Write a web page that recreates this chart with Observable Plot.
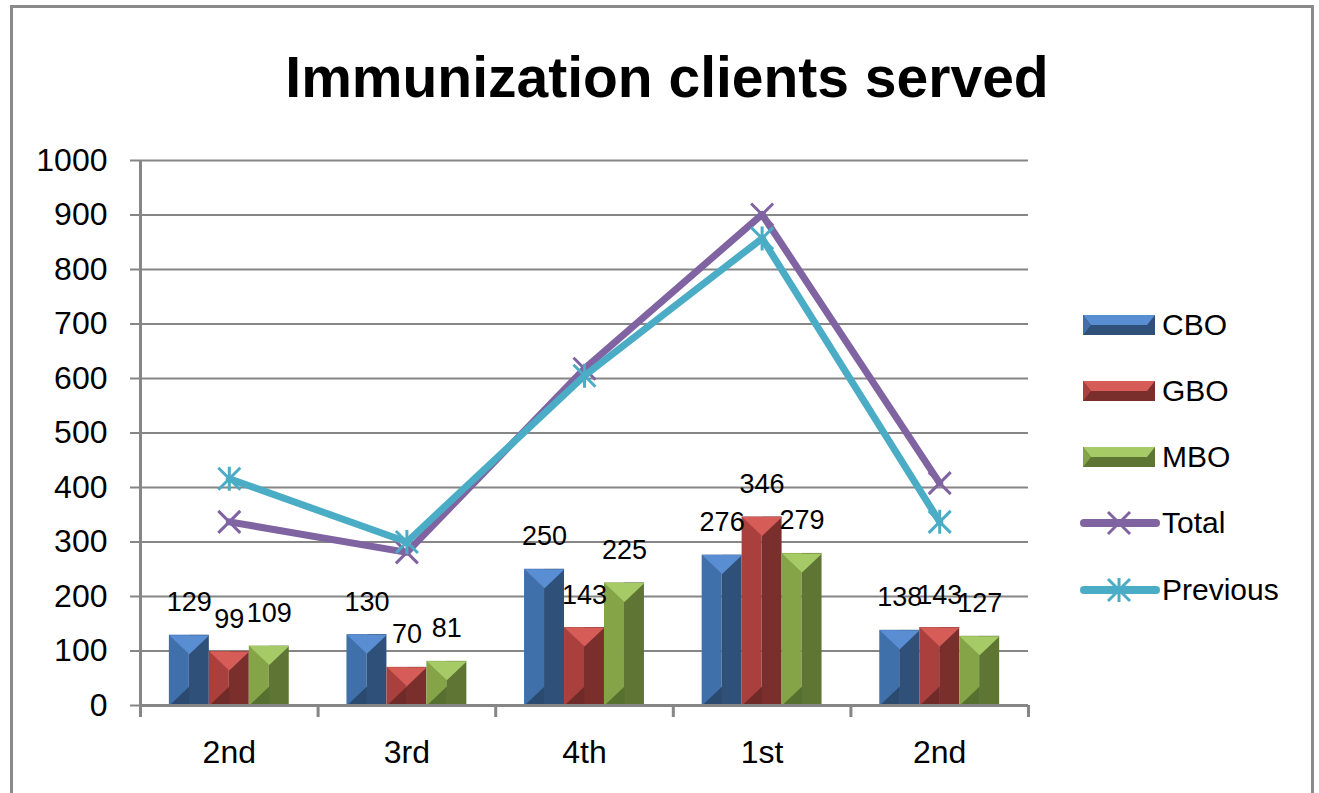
<!DOCTYPE html>
<html>
<head>
<meta charset="utf-8">
<script src="https://cdn.jsdelivr.net/npm/d3@7"></script>
<script src="https://cdn.jsdelivr.net/npm/@observablehq/plot@0.6"></script>
<style>
  html, body { margin: 0; padding: 0; background: #fff; }
  #wrap { position: relative; width: 1319px; height: 793px; overflow: hidden; font-family: "Liberation Sans", Arial, sans-serif; color: #000; }
  #frame { position: absolute; left: 10px; top: 5px; width: 1304px; height: 820px; border: 3px solid #8a8a8a; box-sizing: border-box; }
  #title { position: absolute; left: 0; top: 49px; width: 1334px; text-align: center; font-size: 57px; line-height: 57px; font-weight: bold; }
  #chart { position: absolute; left: 0; top: 130px; }
  .leg { position: absolute; left: 1080px; height: 30px; }
  .leg .lab { position: absolute; left: 82px; top: 0; font-size: 30px; line-height: 30px; white-space: nowrap; }
</style>
</head>
<body>
<div id="wrap">
  <div id="frame"></div>
  <div id="title">Immunization clients served</div>
  <div id="chart"></div>
  <div id="legend"></div>
</div>
<script>
// ---- data ----
const quarters = ["2nd", "3rd", "4th", "1st", "2nd"];
const barSeries = ["CBO", "GBO", "MBO"];
const cbo = [129, 130, 250, 276, 138];
const gbo = [99, 70, 143, 346, 143];
const mbo = [109, 81, 225, 279, 127];
const total = [337, 281, 618, 901, 408];
const previous = [416, 300, 605, 857, 337];
const yTicks = [0, 100, 200, 300, 400, 500, 600, 700, 800, 900, 1000];

// ---- styles ----
const barColors = {
  CBO: {light: "#5a8ed2", mid: "#3f70aa", dark: "#2f5179", bottom: "#2b4a70"},
  GBO: {light: "#d65c57", mid: "#aa403d", dark: "#7a2f2d", bottom: "#702a28"},
  MBO: {light: "#a6ca66", mid: "#84a447", dark: "#5e7533", bottom: "#56702f"}
};
const totalColor = "#8064a2";
const prevColor = "#4bacc6";
const gridColor = "#868686";

const barW = 0.225; // in category units
const barValues = {CBO: cbo, GBO: gbo, MBO: mbo};
const bars = [];
barSeries.forEach((s, k) => {
  barValues[s].forEach((v, i) => {
    const x1 = i + 0.5 + (k - 1.5) * barW;
    bars.push({series: s, i, value: v, x1, xm: x1 + barW / 2, x2: x1 + barW});
  });
});
const totalRows = total.map((v, i) => ({i, value: v}));
const prevRows = previous.map((v, i) => ({i, value: v}));

// custom pixel symbols
const topTri = {draw(c) { c.moveTo(-20, 0); c.lineTo(20, 0); c.lineTo(0, 19); c.closePath(); }};
const botTri = {draw(c) { c.moveTo(-20, 0); c.lineTo(0, -19); c.lineTo(0, 0); c.closePath(); }};
const timesSym = {draw(c) { c.moveTo(-11, -11); c.lineTo(11, 11); c.moveTo(-11, 11); c.lineTo(11, -11); }};
const asterSym = {draw(c) { c.moveTo(-11, -11); c.lineTo(11, 11); c.moveTo(-11, 11); c.lineTo(11, -11); c.moveTo(0, -12); c.lineTo(0, 12); }};

const barMarks = [];
barSeries.forEach(s => {
  const data = bars.filter(d => d.series === s);
  const col = barColors[s];
  barMarks.push(
    Plot.rect(data, {x1: "x1", x2: "xm", y1: 0, y2: "value", fill: col.mid}),
    Plot.rect(data, {x1: "xm", x2: "x2", y1: 0, y2: "value", fill: col.dark}),
    Plot.dot(data, {x: "xm", y: 0, symbol: botTri, fill: col.bottom, stroke: "none"}),
    Plot.dot(data, {x: "xm", y: "value", symbol: topTri, fill: col.light, stroke: "none"})
  );
});

const chart = Plot.plot({
  width: 1319,
  height: 663,
  marginTop: 30,
  marginBottom: 88,
  marginLeft: 140,
  marginRight: 291,
  style: {fontFamily: "'Liberation Sans', Arial, sans-serif", color: "#000", background: "transparent"},
  x: {domain: [0, 5], axis: null},
  y: {domain: [0, 1000], axis: null},
  marks: [
    Plot.gridY(yTicks, {stroke: gridColor, strokeOpacity: 1, strokeWidth: 2}),
    Plot.axisY(yTicks, {tickSize: 10, tickPadding: 23, fontSize: 32, stroke: gridColor, strokeWidth: 2, strokeOpacity: 1, fill: "#000", label: null, tickFormat: d => String(d)}),
    Plot.axisX([0, 1, 2, 3, 4, 5], {tickSize: 12, tickFormat: () => "", label: null, stroke: gridColor, strokeWidth: 3, strokeOpacity: 1}),
    Plot.axisX([0.5, 1.5, 2.5, 3.5, 4.5], {tickSize: 0, tickPadding: 35, fontSize: 32, fill: "#000", label: null, tickFormat: d => quarters[Math.floor(d)]}),
    Plot.ruleX([0], {stroke: gridColor, strokeWidth: 3}),
    ...barMarks,
    Plot.ruleY([0], {stroke: gridColor, strokeWidth: 3}),
    Plot.text(bars, {x: "xm", y: "value", text: d => String(d.value), dy: -24, lineAnchor: "bottom", fontSize: 27, fill: "#000"}),
    Plot.line(totalRows, {x: d => d.i + 0.5, y: "value", stroke: totalColor, strokeWidth: 7, strokeLinejoin: "round"}),
    Plot.dot(totalRows, {x: d => d.i + 0.5, y: "value", symbol: timesSym, stroke: totalColor, strokeWidth: 3, fill: "none"}),
    Plot.line(prevRows, {x: d => d.i + 0.5, y: "value", stroke: prevColor, strokeWidth: 7, strokeLinejoin: "round"}),
    Plot.dot(prevRows, {x: d => d.i + 0.5, y: "value", symbol: asterSym, stroke: prevColor, strokeWidth: 3, fill: "none"})
  ]
});
document.getElementById("chart").appendChild(chart);

// ---- legend ----
const legendItems = [
  {name: "CBO", type: "bar", col: barColors.CBO, cy: 325},
  {name: "GBO", type: "bar", col: barColors.GBO, cy: 391},
  {name: "MBO", type: "bar", col: barColors.MBO, cy: 457},
  {name: "Total", type: "line", color: totalColor, sym: "times", cy: 523},
  {name: "Previous", type: "line", color: prevColor, sym: "aster", cy: 590}
];
const legend = document.getElementById("legend");
legendItems.forEach(it => {
  const row = document.createElement("div");
  row.className = "leg";
  row.style.top = (it.cy - 15) + "px";
  let sw;
  if (it.type === "bar") {
    sw = `<svg width="80" height="30" style="position:absolute;left:0;top:0">
      <rect x="3" y="5" width="72" height="20" fill="${it.col.dark}"/>
      <polygon points="3,5 75,5 67,15 11,15" fill="${it.col.light}"/>
      <polygon points="3,5 11,15 3,25" fill="${it.col.mid}"/>
    </svg>`;
  } else {
    const extra = it.sym === "aster" ? `<line x1="39" y1="3" x2="39" y2="27"/>` : "";
    sw = `<svg width="80" height="30" style="position:absolute;left:0;top:0">
      <line x1="4" y1="15" x2="76" y2="15" stroke="${it.color}" stroke-width="8" stroke-linecap="round"/>
      <g stroke="${it.color}" stroke-width="3"><line x1="28" y1="4" x2="50" y2="26"/><line x1="28" y1="26" x2="50" y2="4"/>${extra}</g>
    </svg>`;
  }
  row.innerHTML = sw + `<div class="lab">${it.name}</div>`;
  legend.appendChild(row);
});
</script>
</body>
</html>
